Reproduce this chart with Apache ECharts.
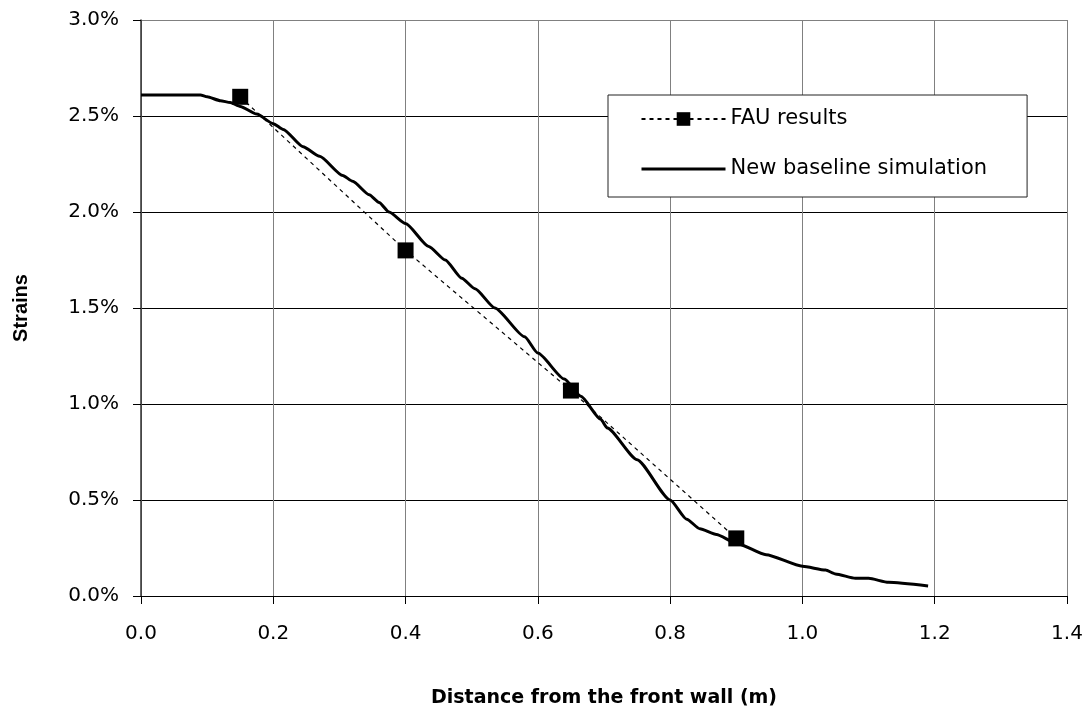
<!DOCTYPE html>
<html>
<head>
<meta charset="utf-8">
<script src="https://cdn.jsdelivr.net/npm/echarts@6/dist/echarts.min.js"></script>
<style>
html,body{margin:0;padding:0;background:#fff;}
#chart{width:1090px;height:707px;}
</style>
</head>
<body>
<div id="chart"></div>
<script>
// ---- data ----
const fauDistance = [0.15, 0.40, 0.65, 0.90];
const fauStrain   = [2.60, 1.80, 1.07, 0.30];   // percent

const simDistance = [0.00, 0.09, 0.10, 0.12, 0.135, 0.15, 0.175, 0.20, 0.215, 0.245, 0.27, 0.305, 0.32, 0.345, 0.36, 0.375, 0.40, 0.435, 0.46, 0.485, 0.505, 0.535, 0.58, 0.60, 0.64, 0.665, 0.695, 0.705, 0.75, 0.80, 0.825, 0.845, 0.87, 0.90, 0.945, 1.00, 1.035, 1.05, 1.08, 1.10, 1.13, 1.19];
const simStrain   = [2.61, 2.61, 2.60, 2.58, 2.57, 2.55, 2.51, 2.46, 2.43, 2.34, 2.29, 2.19, 2.16, 2.09, 2.05, 2.00, 1.94, 1.82, 1.75, 1.655, 1.60, 1.50, 1.35, 1.265, 1.13, 1.04, 0.92, 0.875, 0.71, 0.50, 0.40, 0.35, 0.32, 0.275, 0.215, 0.155, 0.135, 0.115, 0.092, 0.092, 0.071, 0.052];

const seriesNames = ['FAU results', 'New baseline simulation'];
const xTitle = 'Distance from the front wall (m)';
const yTitle = 'Strains';

// ---- chart ----
const chart = echarts.init(document.getElementById('chart'));
const tickFont = 'DejaVu Sans';

chart.setOption({
  animation: false,
  backgroundColor: '#fff',
  grid: { left: 141, right: 23, top: 20, bottom: 111, show: false, containLabel: false, outerBoundsMode: 'none' },
  legend: {
    orient: 'vertical',
    left: 608, top: 95,
    padding: [12, 40, 16, 32],
    backgroundColor: '#fff',
    borderColor: '#222',
    borderWidth: 1,
    itemWidth: 84,
    itemHeight: 17,
    itemGap: 26,
    selectedMode: false,
    textStyle: { fontFamily: tickFont, fontSize: 21, color: '#000', lineHeight: 24 },
    data: [
      { name: seriesNames[0], lineStyle: { width: 2 } },
      { name: seriesNames[1], itemStyle: { opacity: 0 }, lineStyle: { width: 3 } }
    ]
  },
  xAxis: {
    type: 'value', min: 0, max: 1.4, interval: 0.2,
    name: xTitle, nameLocation: 'middle', nameGap: 93,
    nameTextStyle: { fontFamily: 'DejaVu Sans', fontWeight: 'bold', fontSize: 19, color: '#000' },
    axisLine: { show: true, onZero: false, lineStyle: { color: '#000', width: 1 } },
    axisTick: { show: true, inside: false, length: 8, lineStyle: { color: '#000' } },
    axisLabel: { margin: 28, fontFamily: tickFont, fontSize: 20, color: '#000',
                 formatter: v => v.toFixed(1) },
    splitLine: { show: true, lineStyle: { color: '#808080', width: 1 } }
  },
  yAxis: {
    type: 'value', min: 0, max: 3, interval: 0.5,
    name: yTitle, nameLocation: 'middle', nameGap: 110, nameRotate: 90,
    nameTextStyle: { fontFamily: 'Liberation Sans', fontWeight: 'bold', fontSize: 20, color: '#000' },
    axisLine: { show: true, lineStyle: { color: '#333', width: 1.5 } },
    axisTick: { show: true, inside: false, length: 8, lineStyle: { color: '#000' } },
    axisLabel: { margin: 22, fontFamily: tickFont, fontSize: 20, color: '#000',
                 formatter: v => v.toFixed(1) + '%' },
    splitLine: { show: true, lineStyle: { color: ['#000', '#000', '#000', '#000', '#000', '#000', '#808080'], width: 1 } }
  },
  series: [
    {
      name: seriesNames[0],
      type: 'line',
      data: fauDistance.map((x, i) => [x, fauStrain[i]]),
      symbol: 'rect',
      symbolSize: 16,
      itemStyle: { color: '#000' },
      lineStyle: { color: '#000', width: 1.2, type: [4, 4] },
      z: 4
    },
    {
      name: seriesNames[1],
      type: 'line',
      data: simDistance.map((x, i) => [x, simStrain[i]]),
      symbol: 'none',
      smooth: 0.2,
      smoothMonotone: 'x',
      itemStyle: { color: '#000' },
      lineStyle: { color: '#000', width: 3 },
      z: 3
    }
  ]
});
</script>
</body>
</html>
